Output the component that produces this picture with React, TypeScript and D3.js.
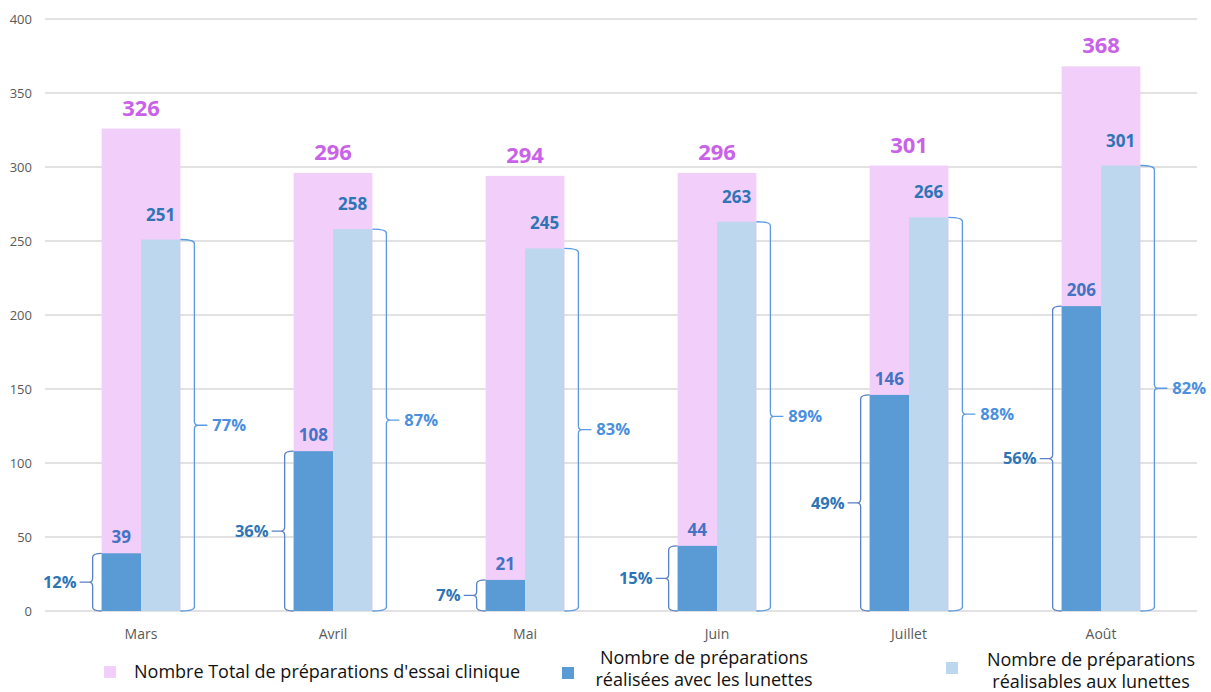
import React from "react";
import * as d3 from "d3";

// Monthly counts of clinical-trial preparations
const months = ["Mars", "Avril", "Mai", "Juin", "Juillet", "Août"];
const totalPreparations = [326, 296, 294, 296, 301, 368];
const doneWithGlasses = [39, 108, 21, 44, 146, 206];
const feasibleWithGlasses = [251, 258, 245, 263, 266, 301];
const yTicks = [0, 50, 100, 150, 200, 250, 300, 350, 400];

const legendItems = [
  { lines: ["Nombre Total de préparations d'essai clinique"], color: "#F1CFFA" },
  { lines: ["Nombre de préparations", "réalisées avec les lunettes"], color: "#5B9BD5" },
  { lines: ["Nombre de préparations", "réalisables aux lunettes"], color: "#BDD7EE" },
];

const W = 1211;
const H = 692;
const FONT = "'Open Sans', 'Noto Sans', sans-serif";

const COLORS = {
  total: "#F1CFFA",
  done: "#5B9BD5",
  feasible: "#BDD7EE",
  totalLabel: "#C962E8",
  doneLabel: "#4472C4",
  feasibleLabel: "#2E75B6",
  leftPct: "#2E75B6",
  rightPct: "#4A8FE0",
  leftBrace: "#5A80C8",
  rightBrace: "#5B9BE2",
  grid: "#D9D9D9",
  axisText: "#595959",
};

// Curly brace path running from y1 (top) to y0 (bottom) at x = bx,
// hooking back towards the bar edge ex and pointing away at mid height.
function bracePath(ex: number, bx: number, y1: number, y0: number, dir: number, leader: number) {
  const r = 4;
  const mid = (y1 + y0) / 2;
  const tip = bx + dir * 4;
  return [
    `M${ex},${y1}`,
    `Q${bx},${y1} ${bx},${y1 + r}`,
    `L${bx},${mid - r}`,
    `Q${bx},${mid} ${tip},${mid}`,
    `Q${bx},${mid} ${bx},${mid + r}`,
    `L${bx},${y0 - r}`,
    `Q${bx},${y0} ${ex},${y0}`,
    `M${tip},${mid}`,
    `L${bx + dir * leader},${mid}`,
  ].join(" ");
}

export default function App() {
  const x = d3
    .scaleBand<string>()
    .domain(months)
    .range([45, 1197])
    .paddingInner(0.59)
    .paddingOuter(0.295);
  const y = d3.scaleLinear().domain([0, 400]).range([611, 19]);
  const bw = x.bandwidth();
  const half = bw / 2;
  const pct = (v: number, t: number) => `${Math.round((v / t) * 100)}%`;

  const legendX = [104, 562, 946];

  return (
    <svg
      width={W}
      height={H}
      viewBox={`0 0 ${W} ${H}`}
      style={{ position: "absolute", left: 0, top: 0, background: "#fff" }}
      fontFamily={FONT}
    >
      {/* grid and y tick labels */}
      {yTicks.map((t) => (
        <g key={t}>
          <line x1={45} x2={1197} y1={y(t)} y2={y(t)} stroke={COLORS.grid} strokeWidth={1.5} />
          <text x={32} y={y(t)} dy="0.35em" textAnchor="end" fontSize={13} fill={COLORS.axisText}>
            {t}
          </text>
        </g>
      ))}

      {months.map((m, i) => {
        const x0 = x(m)!;
        const tot = totalPreparations[i];
        const done = doneWithGlasses[i];
        const feas = feasibleWithGlasses[i];
        const lbx = x0 - 9;
        const rbx = x0 + bw + 14;
        return (
          <g key={m}>
            <rect x={x0} y={y(tot)} width={bw} height={y(0) - y(tot)} fill={COLORS.total} />
            <rect x={x0} y={y(done)} width={half} height={y(0) - y(done)} fill={COLORS.done} />
            <rect x={x0 + half} y={y(feas)} width={half} height={y(0) - y(feas)} fill={COLORS.feasible} />

            <text x={x0 + bw / 2} y={y(tot) - 13} textAnchor="middle" fontSize={22} fontWeight={700} fill={COLORS.totalLabel}>
              {tot}
            </text>
            <text x={x0 + half / 2} y={y(done) - 10} textAnchor="middle" fontSize={17} fontWeight={700} fill={COLORS.doneLabel}>
              {done}
            </text>
            <text x={x0 + half * 1.5} y={y(feas) - 19} textAnchor="middle" fontSize={17} fontWeight={700} fill={COLORS.feasibleLabel}>
              {feas}
            </text>

            {/* share of total: done (left brace) and feasible (right brace) */}
            <path d={bracePath(x0, lbx, y(done), y(0), -1, 13)} fill="none" stroke={COLORS.leftBrace} strokeWidth={1.3} />
            <text x={lbx - 16} y={(y(done) + y(0)) / 2} dy="0.35em" textAnchor="end" fontSize={16.5} fontWeight={700} fill={COLORS.leftPct}>
              {pct(done, tot)}
            </text>
            <path d={bracePath(x0 + bw, rbx, y(feas), y(0), 1, 13)} fill="none" stroke={COLORS.rightBrace} strokeWidth={1.3} />
            <text x={rbx + 18} y={(y(feas) + y(0)) / 2} dy="0.35em" textAnchor="start" fontSize={16.5} fontWeight={700} fill={COLORS.rightPct}>
              {pct(feas, tot)}
            </text>

            <text x={x0 + bw / 2} y={634} dy="0.35em" textAnchor="middle" fontSize={14} fill={COLORS.axisText}>
              {m}
            </text>
          </g>
        );
      })}

      {/* legend */}
      {legendItems.map((item, i) => {
        const lx = legendX[i];
        if (item.lines.length === 1) {
          return (
            <g key={i}>
              <rect x={lx} y={666} width={12} height={12} fill={item.color} />
              <text x={lx + 30} y={672} dy="0.35em" fontSize={18} fill="#111">
                {item.lines[0]}
              </text>
            </g>
          );
        }
        const cx = i === 1 ? 704 : 1091;
        const top = i === 1 ? 658 : 660;
        return (
          <g key={i}>
            <rect x={lx} y={i === 1 ? 667 : 662} width={12} height={12} fill={item.color} />
            {item.lines.map((ln, k) => (
              <text key={k} x={cx} y={top + k * 22} dy="0.35em" textAnchor="middle" fontSize={18} fill="#111">
                {ln}
              </text>
            ))}
          </g>
        );
      })}
    </svg>
  );
}
